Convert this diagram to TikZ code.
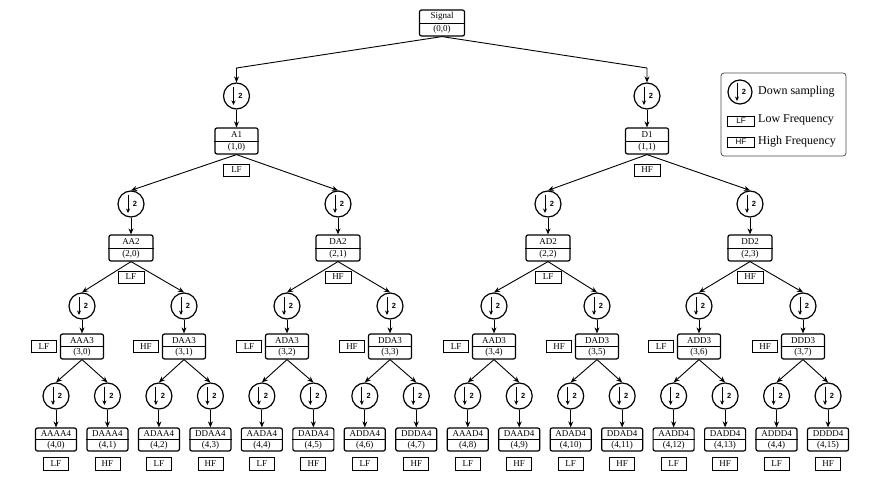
\documentclass[tikz,border=0pt]{standalone}
\usepackage{fontspec}
\setmainfont{Liberation Serif}
\setsansfont{Liberation Sans}
\usetikzlibrary{arrows.meta}
\tikzset{
  arr/.style={line width=0.9pt,-{Stealth[length=6pt,width=5pt]}},
  tb/.style={draw,line width=1.2pt,rounded corners=2pt,inner sep=0pt},
  tt/.style={font=\fontsize{9}{9}\selectfont,inner sep=0pt},
  ds/.style={circle,draw,line width=1.2pt,minimum size=26pt,inner sep=0pt,
    path picture={
      \draw[line width=1pt,-{Stealth[length=4.5pt,width=4pt]}]
        ([xshift=-3pt,yshift=9pt]path picture bounding box.center) --
        ([xshift=-3pt,yshift=-9pt]path picture bounding box.center);
      \node[font=\sffamily\bfseries\fontsize{7.5}{7.5}\selectfont,inner sep=0pt]
        at ([xshift=4pt]path picture bounding box.center) {2};
    }},
  tag/.style={draw,line width=0.8pt,minimum width=26pt,minimum height=12pt,
    inner sep=0pt,font=\fontsize{9}{9}\selectfont},
}
\newcommand\wbox[7]{%
  \node[tb,minimum width=#4pt,minimum height=#5pt] (#1) at (#2,#3) {};
  \draw[line width=0.7pt] (#1.west) -- (#1.east);
  \node[tt] (#1t) at ([yshift=#5pt/4]#1.center) {#6};
  \node[tt] (#1b) at ([yshift=-#5pt/4]#1.center) {#7};}
\begin{document}
\begin{tikzpicture}[x=1pt,y=-1pt]
\useasboundingbox (0,0) rectangle (895,486);
% level 0
\wbox{sig}{442}{23}{45}{26}{Signal}{(0,0)}
% level 1
\node[ds] (c10) at (236.5,96) {};
\node[ds] (c11) at (647,96) {};
\wbox{b10}{236.5}{141}{43}{26}{A1}{(1,0)}
\wbox{b11}{647}{141}{43}{26}{D1}{(1,1)}
\coordinate (k0) at (236.5,68);
\coordinate (k1) at (647,68);
\draw[arr] (sig.south) -- (k0) -- (c10.north);
\draw[arr] (sig.south) -- (k1) -- (c11.north);
\draw[arr] (c10.south) -- (b10.north);
\draw[arr] (c11.south) -- (b11.north);
\node[tag] (t10) at (236.5,170) {LF};
\node[tag] (t11) at (647,170) {HF};
% level 2
\foreach \xx/\nm/\cd/\tg [count=\i from 0] in
  {131/AA2/{(2,0)}/LF, 338/DA2/{(2,1)}/HF, 548/AD2/{(2,2)}/LF, 750/DD2/{(2,3)}/HF}{
  \pgfmathtruncatemacro\p{int(\i/2)}
  \node[ds] (c2\i) at (\xx,204) {};
  \wbox{b2\i}{\xx}{248}{44}{26}{\nm}{\cd}
  \node[tag] (t2\i) at (\xx,277) {\tg};
  \draw[arr] (b1\p.south) -- (c2\i.north);
  \draw[arr] (c2\i.south) -- (b2\i.north);
}
% level 3
\foreach \xx/\nm/\cd/\tg [count=\i from 0] in
  {82/AAA3/{(3,0)}/LF, 184/DAA3/{(3,1)}/HF, 287/ADA3/{(3,2)}/LF, 390/DDA3/{(3,3)}/HF,
   494/AAD3/{(3,4)}/LF, 597/DAD3/{(3,5)}/HF, 699/ADD3/{(3,6)}/LF, 803/DDD3/{(3,7)}/HF}{
  \pgfmathtruncatemacro\p{int(\i/2)}
  \node[ds] (c3\i) at (\xx,306) {};
  \wbox{b3\i}{\xx}{346.5}{43}{25}{\nm}{\cd}
  \node[tag,anchor=east,minimum width=25pt] (t3\i) at ([xshift=-3pt]b3\i.west) {\tg};
  \draw[arr] (b2\p.south) -- (c3\i.north);
  \draw[arr] (c3\i.south) -- (b3\i.north);
}
% level 4
\foreach \nm/\cd/\tg [count=\i from 0] in
  {AAAA4/{(4,0)}/LF, DAAA4/{(4,1)}/HF, ADAA4/{(4,2)}/LF, DDAA4/{(4,3)}/HF,
   AADA4/{(4,4)}/LF, DADA4/{(4,5)}/HF, ADDA4/{(4,6)}/LF, DDDA4/{(4,7)}/HF,
   AAAD4/{(4,8)}/LF, DAAD4/{(4,9)}/HF, ADAD4/{(4,10)}/LF, DDAD4/{(4,11)}/HF,
   AADD4/{(4,12)}/LF, DADD4/{(4,13)}/HF, ADDD4/{(4,4)}/LF, DDDD4/{(4,15)}/HF}{
  \pgfmathtruncatemacro\p{int(\i/2)}
  \pgfmathsetmacro\xx{56+\i*51.47}
  \node[ds] (c4\i) at (\xx,396) {};
  \wbox{b4\i}{\xx}{439.5}{41}{23}{\nm}{\cd}
  \node[tag,minimum width=25pt,minimum height=13pt] (t4\i) at (\xx,464) {\tg};
  \draw[arr] (b3\p.south) -- (c4\i.north);
  \draw[arr] (c4\i.south) -- (b4\i.north);
}
% legend
\node[draw=black!70,rounded corners=3pt,line width=0.8pt,minimum width=125pt,
  minimum height=83pt,inner sep=0pt] (leg) at (783.5,114.5) {};
\node[ds,minimum size=24pt] (lc) at (740,92) {};
\node[tag,minimum width=27pt,minimum height=10pt,font=\sffamily\fontsize{8}{8}\selectfont] (lt1) at (741,121) {LF};
\node[tag,minimum width=27pt,minimum height=10pt,font=\sffamily\fontsize{8}{8}\selectfont] (lt2) at (741,142) {HF};
\node[anchor=west,inner sep=0pt,font=\fontsize{12}{12}\selectfont] (lx1) at (758,92) {Down sampling};
\node[anchor=west,inner sep=0pt,font=\fontsize{12}{12}\selectfont] (lx2) at (758,120) {Low Frequency};
\node[anchor=west,inner sep=0pt,font=\fontsize{12}{12}\selectfont] (lx3) at (758,142) {High Frequency};
\end{tikzpicture}
\end{document}
